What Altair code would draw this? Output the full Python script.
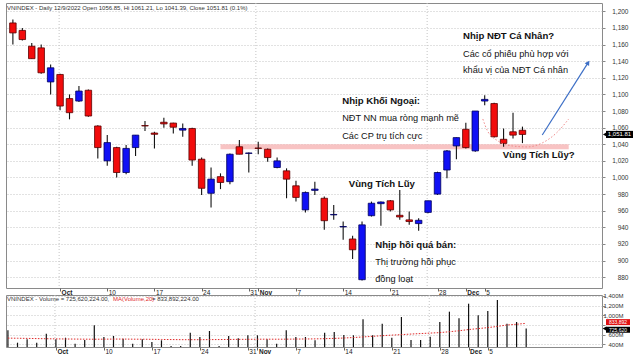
import altair as alt
import pandas as pd

FONT = "Liberation Sans"

# ---------------- data ----------------
opens = [1186, 1177, 1158, 1156, 1115, 1124, 1095, 1092, 1105, 1062,
         1020, 1036, 1006, 1036, 1062.5, 1053.5, 1066.5, 1065.5, 1057, 1059,
         1022, 981, 1001, 995, 1037, 1029, 1035.5, 1034, 1012, 1008,
         990, 961, 984.5, 975, 955, 940.5, 926, 877, 954, 968.5,
         972, 954.5, 949, 944.5, 958, 980, 1009, 1038, 1058, 1032,
         1092, 1089, 1046, 1055, 1056.85]
highs = [1190, 1180, 1162, 1160, 1136, 1125, 1100, 1110, 1106, 1063,
         1051, 1037, 1039, 1051, 1068, 1055, 1072, 1066, 1065, 1060,
         1024, 1012, 1005, 1029, 1045, 1030, 1043, 1035, 1024, 1011,
         996, 983, 995, 977, 967, 947, 930, 947, 971, 971,
         973, 985, 959, 951, 972, 1007, 1033, 1048, 1066, 1080,
         1099, 1090, 1059, 1078, 1061.21]
lows = [1160, 1165, 1143, 1125, 1100, 1081, 1070, 1091, 1073, 1023,
        1014, 1000, 1004, 1026, 1056, 1035, 1060, 1053, 1049, 1014,
        979, 964, 986, 992, 1028, 1006, 1028, 1019, 1011, 975,
        971, 958, 979, 937, 949, 925, 902, 876, 953, 942,
        959, 949, 943, 936, 957, 979, 999, 1022, 1035, 1031,
        1087, 1048, 1037, 1047, 1041.39]
closes = [1174, 1166, 1143, 1126, 1132, 1086, 1078, 1104, 1074, 1036,
          1042, 1006, 1035, 1051, 1062, 1052, 1064.5, 1060.5, 1059, 1021,
          987, 998, 994, 1028, 1028, 1029.5, 1035, 1024, 1020, 998,
          976, 982, 986, 948, 955.5, 941, 913, 943, 969, 970.5,
          961, 952.5, 947, 948.5, 972, 1006, 1032, 1048, 1036, 1080,
          1094, 1049, 1041, 1051, 1051.81]
# volume in millions of shares
volumes = [690, 433, 503, 433, 619, 503, 536, 412, 489, 793,
           551, 572, 516, 412, 503, 447, 482, 364, 364, 640,
           551, 675, 364, 572, 524, 586, 586, 503, 412, 690,
           551, 551, 482, 640, 654, 592, 586, 917, 586, 826,
           536, 965, 489, 489, 557, 861, 1075, 938, 1240, 1000,
           1089, 1317, 826, 861, 725.62]
ma20 = [528, 525, 522, 518, 515, 512, 510, 508, 506, 505,
        506, 508, 508, 506, 505, 503, 500, 498, 496, 495,
        495, 497, 498, 500, 502, 503, 505, 506, 505, 506,
        508, 510, 512, 516, 522, 530, 540, 552, 565, 578,
        590, 600, 612, 622, 632, 642, 660, 680, 705, 725,
        745, 770, 800, 815, 833.89]

tick_idx = [5, 10, 15, 20, 25, 26, 30, 35, 40, 45, 48, 50]
tick_lab = ["Oct", "10", "17", "24", "31", "Nov", "7", "14", "21", "28", "Dec", "5"]
month_idx = [5, 26, 48]
grid_idx = [4.9, 25.75, 43.9]
price_ticks = [880, 900, 920, 940, 960, 980, 1000, 1020, 1040, 1060, 1080,
               1100, 1120, 1140, 1160, 1180, 1200]
vol_ticks = [400, 600, 800, 1000, 1200, 1400]
vol_hidden_label = 800   # covered by the MA tag in the reference

band_i = [22.0, 58.9]
band_p = [1034, 1040]
arc_i = [49.8, 50.3, 51.4, 52.9, 54.5, 56.1, 57.6, 58.9]
arc_p = [1070.4, 1056, 1044, 1038, 1036.8, 1041.6, 1053.6, 1070.4]
arrow_i = [56.1, 60.96]
arrow_p = [1051.2, 1138.2]

ann_bold_t = ["Nhịp NĐT Cá Nhân?", "Nhịp Khối Ngoại:", "Vùng Tích Lũy",
              "Nhịp hồi quá bán:", "Vùng Tích Lũy?"]
ann_bold_i = [47.7, 34.9, 35.6, 38.4, 51.9]
ann_bold_p = [1170.3, 1092.1, 992.3, 918.9, 1027.1]
ann_reg_t = ["Các cổ phiếu phù hợp với", "khẩu vị của NĐT Cá nhân",
             "NĐT NN mua ròng mạnh mẽ", "Các CP trụ tích cực",
             "Thị trường hồi phục", "đồng loạt"]
ann_reg_i = [47.7, 47.7, 34.9, 34.9, 38.4, 38.4]
ann_reg_p = [1149, 1129.4, 1071, 1050, 898.4, 878]

title_main = "VNINDEX - Daily 12/9/2022 Open 1056.85, Hi 1061.21, Lo 1041.39, Close 1051.81 (0.1%)"
vol_title_parts = ["VNINDEX - Volume = 725,620,224.00,", "MA(Volume,20)", " = 833,892,224.00"]
last_close = 1051.81
last_vol = 725.62
last_ma = 833.89

# ---------------- tables ----------------
n = len(opens)
df = pd.DataFrame({"i": list(range(n)), "o": opens, "h": highs, "l": lows,
                   "c": closes, "v": volumes, "ma": ma20})
df["dir"] = ["up" if c >= o else "down" for o, c in zip(opens, closes)]

W = 596
xs = alt.Scale(domain=[-0.2, 61.9], nice=False, zero=False)
ps = alt.Scale(domain=[867, 1210], nice=False, zero=False)
VMIN = 344
vs = alt.Scale(domain=[VMIN, 1420], nice=False, zero=False)

label_expr = "[" + ",".join("'%s'" % t for t in tick_lab) + "][indexof([" + \
    ",".join(str(t) for t in tick_idx) + "], datum.value)]"
bold_test = "indexof([" + ",".join(str(t) for t in month_idx) + "], datum.value) >= 0"

XAX = alt.Axis(values=tick_idx, labelExpr=label_expr, grid=False, domain=False,
               ticks=True, tickSize=3, tickColor="#666", labelAlign="left",
               labelBaseline="top", labelPadding=-2, labelOffset=1,
               labelFont=FONT, labelFontSize=6.5, labelColor="#222",
               labelOverlap=False, labelFlush=False,
               labelFontWeight={"condition": {"test": bold_test, "value": "bold"},
                                "value": "normal"},
               title=None)

PAX = alt.Axis(orient="right", values=price_ticks,
               labelExpr="format(datum.value, ',')", grid=True,
               gridColor="#c4c4c4", gridDash=[1, 2], domain=False, tickSize=3,
               tickColor="#888", labelAlign="right", labelPadding=23,
               labelFont=FONT, labelFontSize=6.5, labelColor="#333", title=None)

VAX = alt.Axis(orient="right", values=vol_ticks,
               labelExpr="datum.value == %d ? '' : format(datum.value, ',') + 'M'" % vol_hidden_label,
               grid=True,
               gridColor="#c4c4c4", gridDash=[1, 2], domain=False, tickSize=3,
               tickColor="#888", labelAlign="right", labelPadding=18,
               labelFont=FONT, labelFontSize=6, labelColor="#333", title=None)


def X(f="i"):
    return alt.X(f + ":Q", scale=xs, axis=XAX)


def P(f="p"):
    return alt.Y(f + ":Q", scale=ps, axis=PAX)


def V(f="v"):
    return alt.Y(f + ":Q", scale=vs, axis=VAX)


color_scale = alt.Scale(domain=["up", "down"], range=["#1010f5", "#f20c0c"])
stroke_scale = alt.Scale(domain=["up", "down"], range=["#00005a", "#5a0000"])

# ---------------- main (price) panel ----------------
base = alt.Chart(df)

wicks = base.mark_rule(color="#111111", strokeWidth=1.1).encode(
    x=X(), y=P("l"), y2="h:Q")

bodies = base.mark_bar(size=6.5, strokeWidth=0.8).encode(
    x=X(), y=P("o"), y2="c:Q",
    fill=alt.Fill("dir:N", scale=color_scale, legend=None),
    stroke=alt.Stroke("dir:N", scale=stroke_scale, legend=None),
)

band = alt.Chart(pd.DataFrame({"i": [band_i[0]], "i2": [band_i[1]],
                               "p": [band_p[0]], "p2": [band_p[1]]})).mark_rect(
    fill="#f7b8b8", opacity=0.85).encode(x=X(), x2="i2:Q", y=P(), y2="p2:Q")

vgrid = alt.Chart(pd.DataFrame({"i": grid_idx})).mark_rule(
    color="#c4c4c4", strokeDash=[1, 2], strokeWidth=1).encode(x=X())

arc = alt.Chart(pd.DataFrame({"i": arc_i, "p": arc_p})).mark_line(
    color="#f08a8a", strokeDash=[1.5, 2], strokeWidth=1, interpolate="monotone").encode(
    x=X(), y=P())

arrow_line = alt.Chart(pd.DataFrame({"i": arrow_i, "p": arrow_p})).mark_line(
    color="#3d6fc6", strokeWidth=1.2).encode(x=X(), y=P())

arrow_head = alt.Chart(pd.DataFrame({"i": [arrow_i[1]], "p": [arrow_p[1]]})).mark_point(
    shape="triangle-up", angle=33, filled=True, size=28, color="#3d6fc6", opacity=1).encode(
    x=X(), y=P())

ann_b = alt.Chart(pd.DataFrame({"i": ann_bold_i, "p": ann_bold_p, "t": ann_bold_t})).mark_text(
    align="left", baseline="middle", font=FONT, fontSize=9.6, fontWeight="bold",
    color="#111111").encode(x=X(), y=P(), text="t:N")

ann_r = alt.Chart(pd.DataFrame({"i": ann_reg_i, "p": ann_reg_p, "t": ann_reg_t})).mark_text(
    align="left", baseline="middle", font=FONT, fontSize=9.2, color="#111111").encode(
    x=X(), y=P(), text="t:N")

title_txt = alt.Chart(pd.DataFrame({"t": [title_main]})).mark_text(
    align="left", baseline="middle", font=FONT, fontSize=6, color="#333333").encode(
    x=alt.value(1), y=alt.value(5), text="t:N")

tag_df = pd.DataFrame({"p": [last_close], "lab": ["1,051.81"]})
tag_rect = alt.Chart(tag_df).transform_calculate(
    lo="datum.p - 4.3", hi="datum.p + 4.3").mark_rect(color="#000000").encode(
    x=alt.value(600), x2=alt.value(627), y=P("lo"), y2="hi:Q")
tag_ptr = alt.Chart(tag_df).mark_point(shape="triangle-left", filled=True, size=22,
                                       color="#000000", opacity=1).encode(
    x=alt.value(599), y=P())
tag_txt = alt.Chart(tag_df).mark_text(font=FONT, fontSize=6, color="#ffffff",
                                      align="center", baseline="middle").encode(
    x=alt.value(613.5), y=P(), text="lab:N")

main = alt.layer(vgrid, band, wicks, bodies, arc, arrow_line, arrow_head,
                 ann_b, ann_r, title_txt, tag_rect, tag_ptr, tag_txt).properties(
    width=W, height=285)

# ---------------- volume panel ----------------
vbars = base.transform_calculate(v0=str(VMIN)).mark_rule(
    color="#111111", strokeWidth=1.2).encode(x=X(), y=V("v"), y2="v0:Q")

vma = base.mark_line(color="#e02a2a", strokeDash=[1.5, 1.5], strokeWidth=1).encode(
    x=X(), y=V("ma"))

vgrid2 = alt.Chart(pd.DataFrame({"i": grid_idx})).mark_rule(
    color="#c4c4c4", strokeDash=[1, 2], strokeWidth=1).encode(x=X())

vt1 = alt.Chart(pd.DataFrame({"t": [vol_title_parts[0]]})).mark_text(
    align="left", baseline="middle", font=FONT, fontSize=6, color="#333333").encode(
    x=alt.value(1), y=alt.value(4), text="t:N")
vt2 = alt.Chart(pd.DataFrame({"t": [vol_title_parts[1]]})).mark_text(
    align="left", baseline="middle", font=FONT, fontSize=6, color="#e02a2a").encode(
    x=alt.value(107), y=alt.value(4), text="t:N")
vt3 = alt.Chart(pd.DataFrame({"t": [vol_title_parts[2]]})).mark_text(
    align="left", baseline="middle", font=FONT, fontSize=6, color="#333333").encode(
    x=alt.value(146), y=alt.value(4), text="t:N")

vtag_df = pd.DataFrame({"v": [last_ma, last_vol], "lab": ["833,892", "725,620"],
                        "k": ["ma", "vol"], "dy": [-1.2, 1.2]})
vtag_rect = alt.Chart(vtag_df).transform_calculate(
    lo="datum.v - 62 - datum.dy * 20.7", hi="datum.v + 62 - datum.dy * 20.7").mark_rect().encode(
    x=alt.value(600), x2=alt.value(624), y=V("lo"), y2="hi:Q",
    color=alt.Color("k:N", scale=alt.Scale(domain=["ma", "vol"],
                                           range=["#e01010", "#000000"]), legend=None))
vtag_ptr = alt.Chart(vtag_df).transform_filter("datum.k == 'vol'").mark_point(
    shape="triangle-left", filled=True, size=18, color="#000000", opacity=1).encode(
    x=alt.value(598.5), y=V())
vtag_txt_ma = alt.Chart(vtag_df).transform_filter("datum.k == 'ma'").mark_text(
    font=FONT, fontSize=5, color="#ffffff", align="center", baseline="middle", dy=-1.2).encode(
    x=alt.value(612), y=V(), text="lab:N")
vtag_txt_v = alt.Chart(vtag_df).transform_filter("datum.k == 'vol'").mark_text(
    font=FONT, fontSize=5, color="#ffffff", align="center", baseline="middle", dy=1.2).encode(
    x=alt.value(612), y=V(), text="lab:N")

vol = alt.layer(vgrid2, vbars, vma, vt1, vt2, vt3, vtag_rect, vtag_ptr,
                vtag_txt_ma, vtag_txt_v).properties(width=W, height=52)

chart = alt.vconcat(main, vol, spacing=7, bounds="flush").properties(
    padding={"left": 5, "top": 2, "right": 0, "bottom": 0},
    background="white",
).configure_view(stroke="#8a8a8a", strokeWidth=1)

chart.save("out.html", embed_options={"renderer": "svg", "actions": False})
